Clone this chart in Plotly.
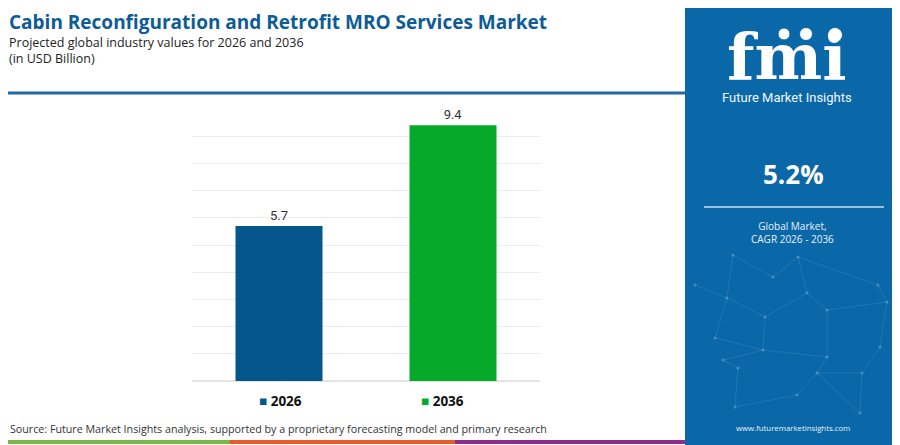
import plotly.graph_objects as go

# Data
years = ['2026', '2036']
values = [5.7, 9.4]
bar_colors = ['#04568c', '#05aa2b']

title = 'Cabin Reconfiguration and Retrofit MRO Services Market'
subtitle = 'Projected global industry values for 2026 and 2036'
unit_note = '(in USD Billion)'
cagr = '5.2%'
cagr_note = 'Global Market,<br>CAGR 2026 - 2036'
source = 'Source: Future Market Insights analysis, supported by a proprietary forecasting model and primary research'
site = 'www.futuremarketinsights.com'

# the page has an 8px body margin, so the figure is laid out in screen pixels minus 8
OFF = 8
W, H = 900 - OFF, 445 - OFF
panel_blue = '#0b68a8'


def px(x):
    return (x - OFF) / W


def py(y):
    return 1 - (y - OFF) / H


fig = go.Figure()

for yr, val, col in zip(years, values, bar_colors):
    fig.add_trace(go.Bar(x=[yr], y=[val], name=yr,
                         marker=dict(color=col, line=dict(width=0)),
                         width=0.5,
                         text=[f'{val:.1f}'], textposition='outside',
                         textfont=dict(family='Roboto', size=13, color='#333333'),
                         cliponaxis=False, showlegend=False))

shapes = []
# header divider line
shapes.append(dict(type='line', x0=0, x1=px(685), y0=py(93), y1=py(93),
                   line=dict(color='#1f6aa5', width=3)))
# right blue panel
shapes.append(dict(type='rect', x0=px(685), x1=1, y0=0, y1=py(8),
                   line=dict(width=0), fillcolor=panel_blue, layer='below'))
# faint network pattern in the panel
nodes = [(733, 255), (798, 257), (878, 285), (695, 285), (727, 298), (765, 317), (715, 338),
         (807, 293), (827, 310), (887, 302), (763, 350), (723, 360), (738, 368), (827, 357),
         (817, 373), (862, 373), (860, 413), (735, 407), (797, 395), (880, 347), (773, 277)]
links = [(0, 4), (0, 20), (20, 1), (1, 2), (3, 4), (4, 5), (5, 7), (7, 8), (8, 9), (2, 9),
         (6, 4), (6, 10), (10, 11), (11, 12), (12, 17), (10, 13), (13, 14), (14, 15), (15, 16),
         (13, 8), (18, 14), (18, 17), (19, 15), (19, 9), (16, 14), (5, 10), (1, 7)]
for a, b in links:
    (xa, ya), (xb, yb) = nodes[a], nodes[b]
    shapes.append(dict(type='line', x0=px(xa), x1=px(xb), y0=py(ya), y1=py(yb),
                       line=dict(color='rgba(255,255,255,0.09)', width=1)))
for xn, yn in nodes:
    shapes.append(dict(type='circle', x0=px(xn - 1.5), x1=px(xn + 1.5), y0=py(yn + 1.5), y1=py(yn - 1.5),
                       line=dict(width=0), fillcolor='rgba(255,255,255,0.22)'))
# cagr divider
shapes.append(dict(type='line', x0=px(704), x1=px(884), y0=py(207), y1=py(207),
                   line=dict(color='#c9dced', width=1.5)))
# bottom colour strip
for x0, x1, c in [(5, 230, '#7ab648'), (230, 455, '#e95b2b'), (455, 685, '#8e2c8e')]:
    shapes.append(dict(type='rect', x0=px(x0), x1=px(x1), y0=py(444), y1=py(440),
                       line=dict(width=0), fillcolor=c))
# small globes of the logo
for cx, cy, r in [(784, 34, 6), (806, 34, 6.5), (835, 35, 7.5)]:
    shapes.append(dict(type='circle', x0=px(cx - r), x1=px(cx + r), y0=py(cy + r), y1=py(cy - r),
                       line=dict(color=panel_blue, width=1), fillcolor='white'))
# stripes over the fmi logo letters
for i in range(13):
    yy = 45 + i * 3.0
    shapes.append(dict(type='line', x0=px(718), x1=px(858), y0=py(yy), y1=py(yy),
                       line=dict(color=panel_blue, width=1)))
for s in shapes:
    s.update(xref='paper', yref='paper')

annotations = [
    dict(text=f'<b>{title}</b>', x=px(8), y=1, xanchor='left', yanchor='top', borderpad=0,
         font=dict(family='Open Sans', size=19, color='#0d5c96')),
    dict(text=f'{subtitle}<br>{unit_note}', x=px(8), y=py(33), xanchor='left', yanchor='top',
         align='left', borderpad=0,
         font=dict(family='Open Sans', size=12.5, color='#222222')),
    dict(text='<b>fmi</b>', x=px(787), y=py(57), xanchor='center', yanchor='middle',
         font=dict(family='DejaVu Serif', size=64, color='white')),
    dict(text='Future Market Insights', x=px(787), y=py(97), xanchor='center', yanchor='middle',
         font=dict(family='Roboto', size=13, color='#f2f6fa')),
    dict(text=f'<b>{cagr}</b>', x=px(793), y=py(174), xanchor='center', yanchor='middle',
         font=dict(family='Open Sans', size=26, color='white')),
    dict(text=cagr_note, x=px(792), y=py(232), xanchor='center', yanchor='middle',
         font=dict(family='Open Sans', size=10, color='#e8f0f8')),
    dict(text=site, x=px(793), y=py(428), xanchor='center', yanchor='middle',
         font=dict(family='Open Sans', size=7.8, color='#e8f0f8')),
    dict(text=source, x=px(8), y=py(429), xanchor='left', yanchor='middle',
         font=dict(family='Open Sans', size=10.7, color='#333333')),
]
# legend drawn as text rows under each bar
for yr, col, lx in zip(years, bar_colors, [257, 419]):
    annotations.append(dict(text=f'<span style="color:{col}">■</span> <b>{yr}</b>',
                            x=px(lx), y=py(401), xanchor='left', yanchor='middle',
                            font=dict(family='Open Sans', size=13.5, color='#111111')))
for a in annotations:
    a.update(xref='paper', yref='paper', showarrow=False)

fig.update_layout(
    width=W, height=H,
    margin=dict(l=0, r=0, t=0, b=0),
    paper_bgcolor='white', plot_bgcolor='white',
    barmode='overlay',
    showlegend=False,
    xaxis=dict(domain=[px(192), px(540)], showticklabels=False, showgrid=False,
               zeroline=False, showline=False, ticks=''),
    yaxis=dict(domain=[py(381), py(109)], range=[0, 10], dtick=1,
               showticklabels=False, showgrid=True, gridcolor='#ececec', gridwidth=1,
               zeroline=True, zerolinecolor='#e4e4e4', showline=False, ticks=''),
    shapes=shapes,
    annotations=annotations,
)

fig.write_html('out.html')
